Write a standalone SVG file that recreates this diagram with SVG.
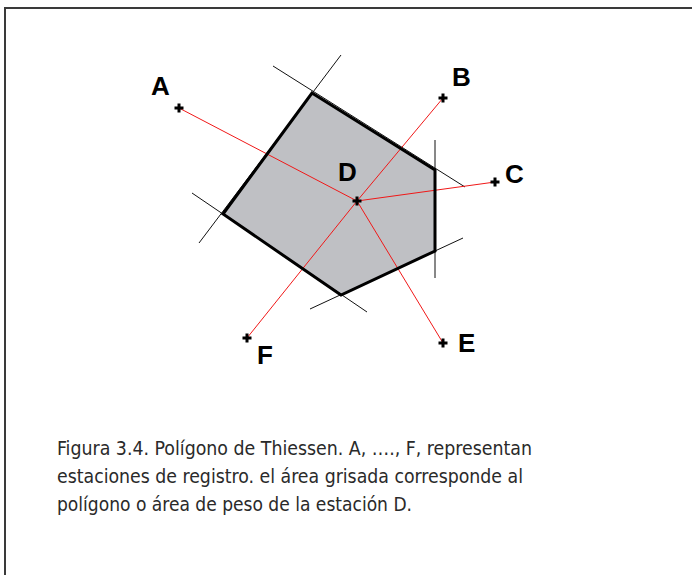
<svg xmlns="http://www.w3.org/2000/svg" width="692" height="575" viewBox="0 0 692 575">
<style>
.frame{fill:none;stroke:#3a3a3a;stroke-width:2}
.edge{fill:none;stroke:#000;stroke-width:3;stroke-linejoin:miter}
.thin{stroke:#111;stroke-width:1}
.red{stroke:#f01818;stroke-width:1}
.cross{stroke:#000;stroke-width:3}
.lbl{font-family:"Liberation Sans",Arial,sans-serif;font-size:26px;font-weight:bold;fill:#000}
.cap{font-family:"DejaVu Sans","Open Sans",sans-serif;font-stretch:condensed;font-size:20px;fill:#2a2a2a}
</style>
<rect width="692" height="575" fill="#fff"/>
<path class="frame" d="M5,575 V8 H692"/>
<g id="polygon">
<polygon points="312,93 435,170 435,251 341,295 223,214" fill="#bfc0c4" stroke="none"/>
</g>
<g id="connectors">
<line class="thin" x1="273" y1="66" x2="465" y2="187"/>
<line class="thin" x1="341" y1="55" x2="199" y2="243"/>
<line class="thin" x1="192" y1="193" x2="367" y2="312"/>
<line class="thin" x1="310" y1="309" x2="463" y2="238"/>
<line class="thin" x1="435" y1="140" x2="435" y2="278"/>
<line class="red" x1="179" y1="108" x2="357" y2="201"/>
<line class="red" x1="443" y1="98" x2="357" y2="201"/>
<line class="red" x1="495" y1="182" x2="357" y2="201"/>
<line class="red" x1="443" y1="343" x2="357" y2="201"/>
<line class="red" x1="247" y1="338" x2="357" y2="201"/>
</g>
<g id="polygon-edges">
<polygon class="edge" points="312,93 435,170 435,251 341,295 223,214"/>
</g>
<g id="A"><path class="cross" d="M174.5,108 h9 M179,103.5 v9"/><text class="lbl" x="151" y="95">A</text></g>
<g id="B"><path class="cross" d="M438.5,98 h9 M443,93.5 v9"/><text class="lbl" x="452" y="86">B</text></g>
<g id="C"><path class="cross" d="M490.5,182 h9 M495,177.5 v9"/><text class="lbl" x="505" y="183">C</text></g>
<g id="D"><path class="cross" d="M352.5,201 h9 M357,196.5 v9"/><text class="lbl" x="338" y="181">D</text></g>
<g id="E"><path class="cross" d="M438.5,343 h9 M443,338.5 v9"/><text class="lbl" x="458" y="352">E</text></g>
<g id="F"><path class="cross" d="M242.5,338 h9 M247,333.5 v9"/><text class="lbl" x="257" y="364">F</text></g>
<g id="caption">
<text class="cap" x="57" y="455" textLength="475" lengthAdjust="spacingAndGlyphs">Figura 3.4. Polígono de Thiessen. A, …., F, representan</text>
<text class="cap" x="57" y="483" textLength="466" lengthAdjust="spacingAndGlyphs">estaciones de registro. el área grisada corresponde al</text>
<text class="cap" x="57" y="511" textLength="355" lengthAdjust="spacingAndGlyphs">polígono o área de peso de la estación D.</text>
</g>
</svg>
